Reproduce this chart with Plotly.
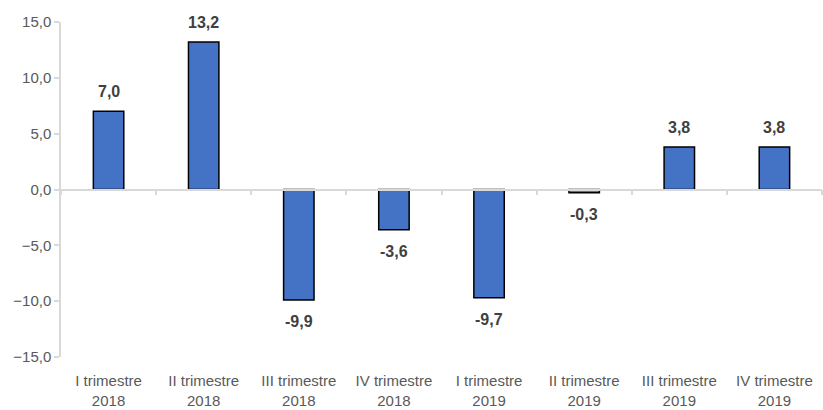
import plotly.graph_objects as go

categories = [
    "I trimestre<br>2018", "II trimestre<br>2018", "III trimestre<br>2018", "IV trimestre<br>2018",
    "I trimestre<br>2019", "II trimestre<br>2019", "III trimestre<br>2019", "IV trimestre<br>2019",
]
values = [7.0, 13.2, -9.9, -3.6, -9.7, -0.3, 3.8, 3.8]
y_ticks = [15, 10, 5, 0, -5, -10, -15]

FONT = "Liberation Sans Narrow, Arial Narrow, Liberation Sans, Arial, sans-serif"
GRAY_TEXT = "#595959"
AXIS_GRAY = "#d9d9d9"

fig = go.Figure()
fig.add_trace(go.Bar(
    x=categories, y=values,
    marker=dict(color="#4472C4", line=dict(color="#000000", width=1.5)),
    width=0.32,
    hoverinfo="skip",
))

# invisible trace on the overlay axis that carries the zero line with boundary ticks
fig.add_trace(go.Scatter(
    x=categories, y=[0] * len(categories), xaxis="x2", yaxis="y",
    mode="markers", marker=dict(opacity=0), hoverinfo="skip", showlegend=False,
))

for c, v in zip(categories, values):
    label = f"{v:.1f}".replace(".", ",")
    fig.add_annotation(
        x=c, y=v, text=f"<b>{label}</b>", showarrow=False,
        yanchor="bottom" if v >= 0 else "top",
        yshift=9 if v >= 0 else -11,
        font=dict(family=FONT, size=16, color="#404040"),
    )

fig.update_layout(
    width=823, height=410,
    margin=dict(l=61, r=1, t=22, b=53),
    paper_bgcolor="white", plot_bgcolor="white",
    showlegend=False,
    separators=",.",
    font=dict(family=FONT, size=15, color=GRAY_TEXT),
    xaxis=dict(
        type="category", showline=False, showgrid=False, zeroline=False,
        ticks="", tickfont=dict(family=FONT, size=15, color=GRAY_TEXT),
        ticklabelstandoff=13,
    ),
    xaxis2=dict(
        type="category", overlaying="x", anchor="free", position=0.5, side="bottom",
        matches="x",
        showline=True, linecolor=AXIS_GRAY, linewidth=1.5,
        ticks="outside", tickson="boundaries", ticklen=5, tickcolor=AXIS_GRAY, tickwidth=1.5,
        showticklabels=False, showgrid=False, zeroline=False,
    ),
    yaxis=dict(
        range=[-15, 15], tickvals=y_ticks, tickformat=".1f",
        showline=True, linecolor=AXIS_GRAY, linewidth=1.5,
        ticks="outside", ticklen=5, tickcolor=AXIS_GRAY, tickwidth=1.5,
        showgrid=False, zeroline=False,
        tickfont=dict(family=FONT, size=15, color=GRAY_TEXT),
    ),
)

fig.write_html("out.html")
